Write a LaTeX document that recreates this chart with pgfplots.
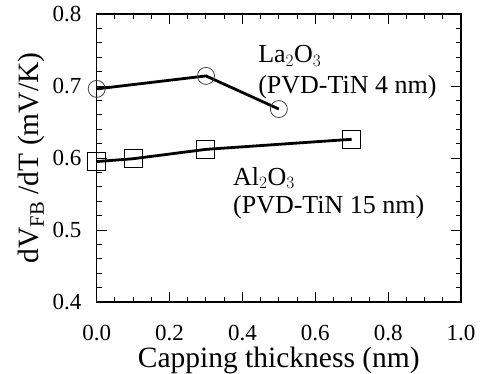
\documentclass[border=0pt]{standalone}
\usepackage{pgfplots}
\pgfplotsset{compat=1.18}
\usepackage{fontspec}
\setmainfont{Liberation Serif}
\begin{document}
\begin{tikzpicture}
\begin{axis}[
  scale only axis,
  width=364.3pt, height=288pt,
  xmin=0, xmax=1.0, ymin=0.4, ymax=0.8,
  xtick={0,0.2,...,1.0}, ytick={0.4,0.5,...,0.8},
  minor x tick num=3, minor y tick num=4,
  tick align=inside, ticks=both,
  xtick pos=both, ytick pos=both,
  major tick length=10pt, minor tick length=5pt,
  axis line style={line width=1.2pt},
  every tick/.style={line width=1pt, black},
  /pgf/number format/assume math mode=true,
  /pgf/number format/.cd, fixed, fixed zerofill, precision=1, /pgfplots/.cd,
  xticklabel style={font=\fontsize{23}{25}\selectfont, anchor=base, inner sep=0pt, yshift=-38pt},
  yticklabel style={font=\fontsize{23}{25}\selectfont, anchor=east, inner sep=0pt, xshift=-15pt},
  xlabel={Capping thickness (nm)},
  ylabel={dV$_{\mathrm{FB}}$ /dT (mV/K)},
  xlabel style={font=\fontsize{29.5}{31}\selectfont, at={(axis description cs:0.5,0)}, anchor=base, inner sep=0pt, yshift=-65pt},
  ylabel style={font=\fontsize{29.5}{31}\selectfont, at={(axis description cs:-0.178,0.5)}, anchor=center, inner sep=0pt},
  clip=false,
]
\addplot[black, line width=2.8pt, mark=o, mark size=8.5pt,
  mark options={fill=white, draw=black!75, line width=0.8pt}]
  coordinates {(0,0.696) (0.3,0.714) (0.5,0.668)};
\addplot[black, line width=2.8pt, mark=square, mark size=9pt,
  mark options={fill=white, draw=black, line width=1pt}]
  coordinates {(0,0.595) (0.1,0.599) (0.3,0.612) (0.7,0.626)};
\node[anchor=base west, inner sep=0, font=\fontsize{26}{28}\selectfont] at (axis cs:0.443,0.732) {La$_2$O$_3$};
\node[anchor=base west, inner sep=0, font=\fontsize{26}{28}\selectfont] at (axis cs:0.443,0.690) {(PVD-TiN 4 nm)};
\node[anchor=base west, inner sep=0, font=\fontsize{26}{28}\selectfont] at (axis cs:0.374,0.5625) {Al$_2$O$_3$};
\node[anchor=base west, inner sep=0, font=\fontsize{26}{28}\selectfont] at (axis cs:0.374,0.5236) {(PVD-TiN 15 nm)};
\end{axis}
\pgfresetboundingbox
\path[use as bounding box] (-96.7pt,-71pt) rectangle (383.3pt,302pt);
\end{tikzpicture}
\end{document}
